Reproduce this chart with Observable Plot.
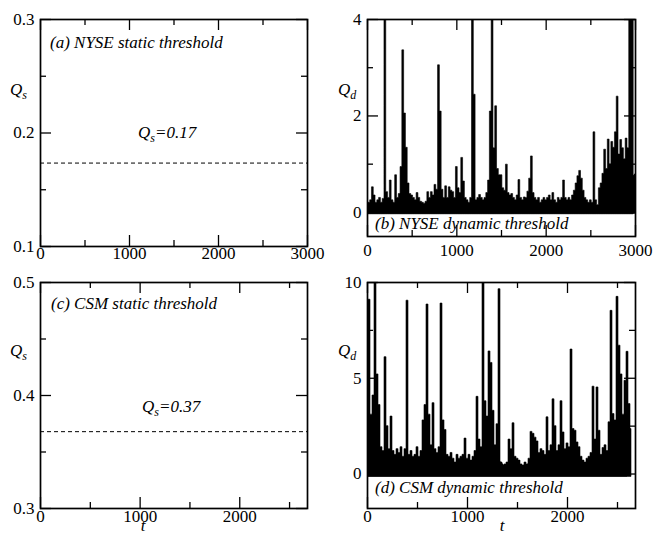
<!DOCTYPE html>
<html><head><meta charset="utf-8">
<script src="https://cdn.jsdelivr.net/npm/d3@7"></script>
<script src="https://cdn.jsdelivr.net/npm/@observablehq/plot@0.6"></script>
<style>
html,body{margin:0;padding:0;background:#fff;}
#fig{position:relative;width:654px;height:533px;overflow:hidden;background:#fff;}
.panel{position:absolute;}
</style></head><body><div id="fig"></div>
<script>
// ---- data ----
const nyseQs = 0.1735;          // static threshold (label 0.17)
const csmQs = 0.368;            // static threshold (label 0.37)
const nyseStep = 20;            // time step between sampled bins
const nyseLow = -0.04;          // noise floor of each bin
// bin maxima of the NYSE dynamic threshold Qd
const nyseQd = [
  0.15,0.2,0.25,0.52,0.35,0.2,0.25,0.3,0.2,0.28,
  5,0.42,0.3,0.66,0.25,0.2,0.77,0.3,0.38,0.94,
  3.36,2.05,1.34,0.6,0.38,0.35,0.3,0.25,0.4,0.3,
  0.22,0.2,0.18,0.22,0.42,0.3,0.42,0.35,0.57,0.47,
  3.05,2.09,0.47,0.3,0.54,0.3,0.52,0.45,0.42,0.3,
  0.94,0.5,0.4,1.13,0.64,0.3,0.25,0.2,0.3,5,
  2.44,0.25,0.3,0.36,0.3,0.25,0.3,0.4,0.66,2.09,
  5,1.33,2.2,0.9,0.77,0.77,0.5,0.45,0.99,0.4,
  0.35,0.38,0.3,0.25,0.35,0.67,0.3,0.25,0.31,0.3,
  0.43,0.7,1.16,0.4,0.3,0.25,0.3,0.2,0.25,0.3,
  0.25,0.3,0.35,0.25,0.4,0.25,0.2,0.3,0.25,0.3,
  0.66,0.3,0.25,0.3,0.25,0.35,0.45,0.6,0.75,0.86,
  0.7,0.45,0.3,0.25,0.2,0.25,0.2,1.66,0.25,0.15,
  0.5,0.6,0.8,1.3,0.9,1.51,1.0,1.46,1.34,1.66,
  2.4,1.2,1.5,1.33,1.1,1.53,1.33,5,5,5
];
// upper edge of the dense (solid) band, every 100 steps
const bandStep = 100;
const nyseBand = [0.1,0.12,0.12,0.12,0.3,0.15,0.1,0.12,0.15,0.12,0.15,0.15,0.1,0.15,0.4,0.3,
  0.15,0.15,0.15,0.12,0.12,0.1,0.15,0.2,0.35,0.12,0.15,0.6,0.7,0.6,0.8];
const csmStep = 20;
const csmLow = -0.15;
const csmQd = [
  1.5,9.1,3.1,4.1,12,5.2,3.6,1.4,1.2,6.1,
  2.5,1.3,3.0,1.2,1.0,1.3,1.1,1.4,0.9,1.3,
  9.05,1.0,1.2,0.9,1.0,1.4,0.9,1.2,2.8,3.6,
  8.85,3.1,1.5,3.7,1.3,1.1,1.4,8.9,2.8,2.3,
  1.0,0.9,1.1,0.8,0.6,1.0,0.8,0.9,1.0,1.85,
  0.8,1.0,0.7,0.9,1.2,4.03,1.8,1.4,12,3.8,
  3.0,6.4,5.8,3.3,1.5,2.6,9.65,0.6,0.4,0.5,
  0.6,1.8,1.3,2.65,0.9,0.8,0.7,0.5,0.4,0.6,
  0.5,0.8,2.2,2.1,1.9,1.7,1.1,1.3,1.2,1.0,
  2.96,1.2,1.5,3.9,2.5,1.2,1.5,3.8,2.17,1.3,
  1.6,1.4,6.5,2.35,2.26,1.65,1.4,0.9,0.7,0.6,
  0.8,0.9,1.1,4.56,1.8,4.52,2.26,1.0,1.36,1.5,
  1.2,2.7,8.52,3.13,2.8,9.25,6.7,5.2,3.1,4.87,
  6.38,3.65,2.35
];
const csmBand = [1.0,1.5,0.8,0.6,0.5,0.5,0.9,0.8,0.5,0.4,0.4,0.6,1.0,0.8,0.3,0.4,
  0.5,0.8,0.7,0.8,0.9,0.6,0.3,0.6,0.8,1.4,1.2];
// axes / ticks
const nyseXDomain = [0, 3000];
const csmXDomain = [0, 2680];
const nyseXMajor = [0, 1000, 2000, 3000], nyseXMinor = [500, 1500, 2500];
const csmXMajor = [0, 1000, 2000], csmXMinor = [500, 1500, 2500];
const aYDomain = [0.1, 0.3], aYMajor = [0.1, 0.2, 0.3], aYMinor = [0.15, 0.25];
const bYDomain = [-0.5, 4], bYMajor = [0, 2, 4], bYMinor = [1, 3];
const cYDomain = [0.3, 0.5], cYMajor = [0.3, 0.4, 0.5], cYMinor = [0.35, 0.45];
const dYDomain = [-1.8, 10], dYMajor = [0, 5, 10], dYMinor = [2.5, 7.5];

const FONT = '"Liberation Serif", "Times New Roman", serif';
const FS = 17;

function bins(vals, step, low) {
  return vals.map((v, i) => ({t: i * step, v, lo: low}));
}

function makePanel(o) {
  const fw = o.width - o.mL - o.mR, fh = o.height - o.mT - o.mB;
  const sw = 1.3;
  const marks = [
    ...o.marks,
    Plot.ruleX(o.xMajor, {insetTop: fh - 11, strokeWidth: sw}),
    Plot.ruleX(o.xMajor, {insetBottom: fh - 11, strokeWidth: sw}),
    Plot.ruleX(o.xMinor, {insetTop: fh - 6, strokeWidth: sw}),
    Plot.ruleX(o.xMinor, {insetBottom: fh - 6, strokeWidth: sw}),
    Plot.ruleY(o.yMajor, {insetRight: fw - 11, strokeWidth: sw}),
    Plot.ruleY(o.yMajor, {insetLeft: fw - 11, strokeWidth: sw}),
    Plot.ruleY(o.yMinor, {insetRight: fw - 6, strokeWidth: sw}),
    Plot.ruleY(o.yMinor, {insetLeft: fw - 6, strokeWidth: sw}),
    Plot.frame({strokeWidth: 1.7}),
    Plot.axisX({ticks: o.xMajor, tickSize: 0, tickPadding: o.xPad, tickFormat: d3.format("d"), label: null}),
    Plot.axisY({ticks: o.yMajor, tickSize: 0, tickPadding: 6, tickFormat: o.yFmt, label: null})
  ];
  const svg = Plot.plot({
    width: o.width, height: o.height,
    marginLeft: o.mL, marginRight: o.mR, marginTop: o.mT, marginBottom: o.mB,
    x: {domain: o.xDomain}, y: {domain: o.yDomain},
    style: {fontFamily: FONT, fontSize: FS + "px", color: "black", background: "transparent", overflow: "visible"},
    marks
  });
  const wrap = document.createElement("div");
  wrap.className = "panel";
  wrap.style.left = o.left + "px";
  wrap.style.top = o.top + "px";
  wrap.appendChild(svg);
  document.getElementById("fig").appendChild(wrap);
  return svg;
}

// parts: array of [text, isSub]
function addText(svg, x, y, parts, anchor) {
  const t = d3.select(svg).append("text")
    .attr("x", x).attr("y", y)
    .attr("font-family", FONT).attr("font-size", FS)
    .attr("font-style", "italic").attr("fill", "black")
    .attr("text-anchor", anchor || "start");
  let shifted = false;
  parts.forEach(([s, sub]) => {
    const sp = t.append("tspan").text(s);
    if (sub && !shifted) { sp.attr("dy", 4).attr("font-size", 12); shifted = true; }
    else if (!sub && shifted) { sp.attr("dy", -4); shifted = false; }
    else if (sub) sp.attr("font-size", 12);
  });
}

function dynMarks(vals, step, low, band) {
  return [
    Plot.areaY(bins(band, bandStep, low), {x: "t", y1: "lo", y2: "v", fill: "black", clip: true}),
    Plot.areaY(bins(vals, step, low), {x: "t", y1: "lo", y2: "v", curve: "step", fill: "black", stroke: "black", strokeWidth: 0.6, clip: true})
  ];
}

// (a)
const svgA = makePanel({
  left: 0, top: 0, width: 327, height: 266, mL: 40, mR: 20, mT: 19, mB: 20, xPad: 0,
  xDomain: nyseXDomain, yDomain: aYDomain, xMajor: nyseXMajor, xMinor: nyseXMinor,
  yMajor: aYMajor, yMinor: aYMinor, yFmt: d3.format(".1f"),
  marks: [Plot.ruleY([nyseQs], {strokeDasharray: "4,3", strokeWidth: 1})]
});
addText(svgA, 50, 47.5, [["(a) NYSE static threshold"]]);
addText(svgA, 138, 138, [["Q"], ["s", true], ["=0.17"]]);
addText(svgA, 10, 95, [["Q"], ["s", true]]);

// (b)
const svgB = makePanel({
  left: 327, top: 0, width: 327, height: 266, mL: 40, mR: 19, mT: 19, mB: 30, xPad: 7,
  xDomain: nyseXDomain, yDomain: bYDomain, xMajor: nyseXMajor, xMinor: nyseXMinor,
  yMajor: bYMajor, yMinor: bYMinor, yFmt: d3.format("d"),
  marks: dynMarks(nyseQd, nyseStep, nyseLow, nyseBand)
});
addText(svgB, 48, 229, [["(b) NYSE dynamic threshold"]]);
addText(svgB, 11, 95, [["Q"], ["d", true]]);

// (c)
const svgC = makePanel({
  left: 0, top: 266, width: 327, height: 267, mL: 40, mR: 20, mT: 16, mB: 25, xPad: 1,
  xDomain: csmXDomain, yDomain: cYDomain, xMajor: csmXMajor, xMinor: csmXMinor,
  yMajor: cYMajor, yMinor: cYMinor, yFmt: d3.format(".1f"),
  marks: [Plot.ruleY([csmQs], {strokeDasharray: "4,3", strokeWidth: 1})]
});
addText(svgC, 51, 42.5, [["(c) CSM static threshold"]]);
addText(svgC, 142, 146, [["Q"], ["s", true], ["=0.37"]]);
addText(svgC, 10, 90, [["Q"], ["s", true]]);
addText(svgC, 143, 264.5, [["t"]], "middle");

// (d)
const svgD = makePanel({
  left: 327, top: 266, width: 327, height: 267, mL: 40, mR: 19, mT: 16, mB: 25, xPad: 1,
  xDomain: csmXDomain, yDomain: dYDomain, xMajor: csmXMajor, xMinor: csmXMinor,
  yMajor: dYMajor, yMinor: dYMinor, yFmt: d3.format("d"),
  marks: dynMarks(csmQd, csmStep, csmLow, csmBand)
});
addText(svgD, 48, 226.5, [["(d) CSM dynamic threshold"]]);
addText(svgD, 11, 90, [["Q"], ["d", true]]);
addText(svgD, 175, 264.5, [["t"]], "middle");
</script></body></html>
